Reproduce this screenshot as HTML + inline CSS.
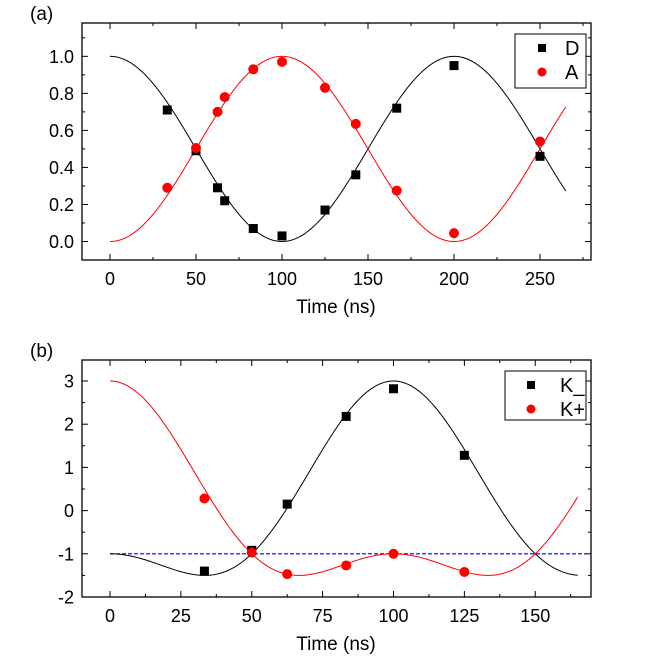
<!DOCTYPE html>
<html><head><meta charset="utf-8"><style>
body{margin:0;background:#fff;}
svg{display:block;font-family:"Liberation Sans",Arial,sans-serif;}
</style></head><body>
<svg id="fig" width="666" height="662" viewBox="0 0 666 662"></svg>
<script>
// Panel (a) data
const aTimes = [33.3, 50, 62.5, 66.7, 83.3, 100, 125, 142.9, 166.7, 200, 250];
const aD = [0.71, 0.49, 0.29, 0.22, 0.07, 0.03, 0.17, 0.36, 0.72, 0.95, 0.46];
const aA = [0.29, 0.505, 0.70, 0.78, 0.93, 0.97, 0.83, 0.635, 0.275, 0.045, 0.54];
const aXTicks = [0, 50, 100, 150, 200, 250];
const aYTicks = [0.0, 0.2, 0.4, 0.6, 0.8, 1.0];
// Panel (b) data
const bTimes = [33.3, 50, 62.5, 83.3, 100, 125];
const bKm = [-1.4, -0.92, 0.15, 2.18, 2.82, 1.28];
const bKp = [0.28, -0.97, -1.47, -1.27, -1.0, -1.42];
const bXTicks = [0, 25, 50, 75, 100, 125, 150];
const bYTicks = [-2, -1, 0, 1, 2, 3];

const NS = "http://www.w3.org/2000/svg";
const svg = document.getElementById('fig');
function mk(tag, attrs, parent){
  const e = document.createElementNS(NS, tag);
  for (const k in attrs) e.setAttribute(k, attrs[k]);
  (parent||svg).appendChild(e);
  return e;
}

function panel(cfg){
  const g = mk('g', {});
  
  
  const X = v => cfg.x0 + (v - cfg.xmin) / (cfg.xmax - cfg.xmin) * (cfg.x1 - cfg.x0);
  const Y = v => cfg.y1 - (v - cfg.ymin) / (cfg.ymax - cfg.ymin) * (cfg.y1 - cfg.y0);
  const xt = mk('g', {stroke:'#000','stroke-width':1}, g);
  
  
  for (let v = cfg.xTicks[0]; v <= cfg.xmax + 1e-9; v += cfg.xMinor){
    const major = cfg.xTicks.some(t => Math.abs(t - v) < 1e-6);
    const L = major ? 6 : 3; const px = X(v);
    mk('line', {x1:px, x2:px, y1:cfg.y1, y2:cfg.y1 - L}, xt);
    mk('line', {x1:px, x2:px, y1:cfg.y0, y2:cfg.y0 + L}, xt);
  }
  for (let v = cfg.yStart; v <= cfg.ymax + 1e-9; v += cfg.yMinor){
    const major = cfg.yTicks.some(t => Math.abs(t - v) < 1e-6);
    const L = major ? 6 : 3; const py = Y(v);
    mk('line', {x1:cfg.x0, x2:cfg.x0 + L, y1:py, y2:py}, xt);
    mk('line', {x1:cfg.x1, x2:cfg.x1 - L, y1:py, y2:py}, xt);
  }
  cfg.xTicks.forEach(v => {
    const t = mk('text', {x:X(v), y:cfg.y1 + 25, 'text-anchor':'middle', 'font-size':18}, g);
    t.textContent = v;
    
    
  });
  cfg.yTicks.forEach(v => {
    const t = mk('text', {x:cfg.x0 - 8, y:Y(v) + 6.5, 'text-anchor':'end', 'font-size':18}, g);
    t.textContent = cfg.yFmt(v);
    
    
  });
  const title = mk('text', {x:336, y:cfg.y1 + 53, 'text-anchor':'middle', 'font-size':19}, g);
  title.textContent = 'Time (ns)';
  
  
  const pl = mk('text', {x:30, y:cfg.y0 - 3, 'font-size':19}, g);
  pl.textContent = cfg.label;
  
  
  (cfg.extra || []).forEach(l => {
    const e = mk('line', {x1:X(l.x0), x2:X(l.x1), y1:Y(l.y), y2:Y(l.y), stroke:l.color, 'stroke-width':1.2, 'stroke-dasharray':'4,2'}, g);
    
    
  });
  cfg.curves.forEach(c => {
    let d = '';
    for (let i = 0; i <= 400; i++){
      const t = c.tmax * i / 400;
      d += (i ? 'L' : 'M') + X(t).toFixed(2) + ',' + Y(c.f(t)).toFixed(2);
    }
    const p = mk('path', {d:d, fill:'none', stroke:c.color, 'stroke-width':1}, g);
    
    
  });
  cfg.series.forEach(s => {
    const sg = mk('g', {fill:s.color}, g);
    
    
    s.xs.forEach((xv, i) => {
      let m;
      if (s.shape === 'sq') m = mk('rect', {x:X(xv) - 4.5, y:Y(s.ys[i]) - 4.5, width:9, height:9}, sg);
      else m = mk('circle', {cx:X(xv), cy:Y(s.ys[i]), r:5}, sg);
      
      
    });
  });
  mk('rect', {x:cfg.x0, y:cfg.y0, width:cfg.x1 - cfg.x0, height:cfg.y1 - cfg.y0, fill:'none', stroke:'#000', 'stroke-width':1.3}, g);
  const lg = mk('g', {}, g);
  
  
  const L = cfg.legend;
  mk('rect', {x:L.x, y:L.y, width:L.w, height:L.h, fill:'#fff', stroke:'#000', 'stroke-width':1}, lg);
  cfg.series.forEach((s, i) => {
    const cy = L.y + 14 + i * 24;
    if (s.shape === 'sq') mk('rect', {x:L.mx - 4, y:cy - 4, width:8, height:8, fill:s.color}, lg);
    else mk('circle', {cx:L.mx, cy:cy, r:4.5, fill:s.color}, lg);
    const t = mk('text', {x:L.tx, y:cy + 7, 'font-size':20}, lg);
    t.textContent = s.label;
    
    
  });
}

const u = t => Math.cos(Math.PI * t / 100);
panel({
  name:'panel-a', label:'(a)', x0:82, x1:591, y0:23, y1:260,
  xmin:(82-110)/1.72, xmax:(591-110)/1.72, ymin:-0.1, ymax:1.18,
  xTicks:aXTicks, xMinor:25, yTicks:aYTicks, yStart:-0.1, yMinor:0.1,
  yFmt:v => v.toFixed(1),
  curves:[
    {name:'d-fit-curve', color:'#000', tmax:265, f:t => Math.pow(Math.cos(Math.PI*t/200),2)},
    {name:'a-fit-curve', color:'#f00', tmax:265, f:t => Math.pow(Math.sin(Math.PI*t/200),2)}
  ],
  series:[
    {name:'series-d', label:'D', color:'#000', shape:'sq', xs:aTimes, ys:aD},
    {name:'series-a', label:'A', color:'#f00', shape:'ci', xs:aTimes, ys:aA}
  ],
  legend:{x:515, y:34, w:71, h:54, mx:542, tx:565}
});
panel({
  name:'panel-b', label:'(b)', x0:82, x1:591, y0:360, y1:597,
  xmin:(82-110)/2.835, xmax:(591-110)/2.835, ymin:-2, ymax:-2 + 237/43.2,
  xTicks:bXTicks, xMinor:12.5, yTicks:bYTicks, yStart:-2, yMinor:0.5,
  yFmt:v => String(v),
  extra:[{name:'reference-line', x0:0, x1:168, y:-1, color:'#00f'}],
  curves:[
    {name:'k-minus-fit-curve', color:'#000', tmax:165, f:t => 2*u(t)*u(t) - 2*u(t) - 1},
    {name:'k-plus-fit-curve', color:'#f00', tmax:165, f:t => 2*u(t)*u(t) + 2*u(t) - 1}
  ],
  series:[
    {name:'series-k-minus', label:'K_', color:'#000', shape:'sq', xs:bTimes, ys:bKm},
    {name:'series-k-plus', label:'K+', color:'#f00', shape:'ci', xs:bTimes, ys:bKp}
  ],
  legend:{x:505, y:371, w:81, h:49, mx:531, tx:560}
});
</script>
</body></html>
